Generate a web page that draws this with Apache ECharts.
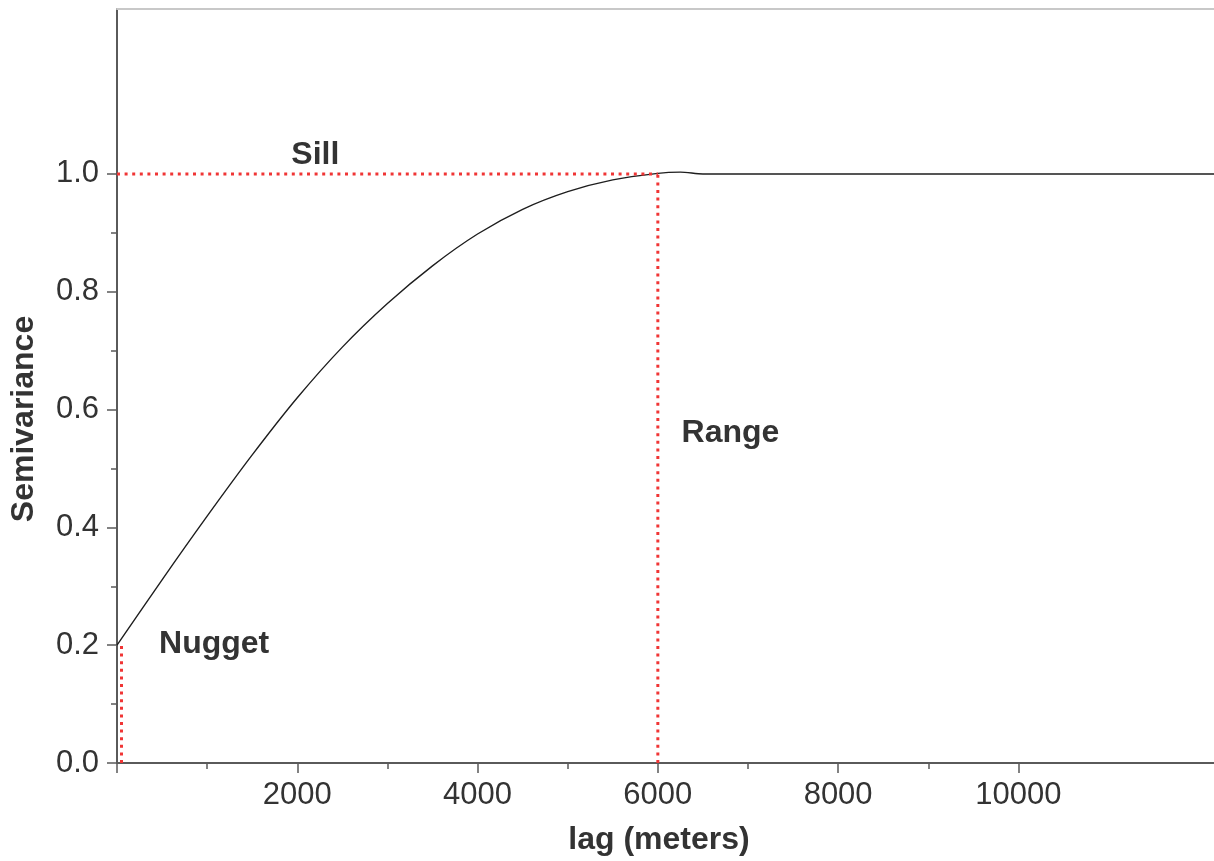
<!DOCTYPE html>
<html>
<head>
<meta charset="utf-8">
<script src="https://cdn.jsdelivr.net/npm/echarts@6/dist/echarts.min.js"></script>
<style>
html,body{margin:0;padding:0;background:#fff;}
#chart{width:1214px;height:861px;}
</style>
</head>
<body>
<div id="chart"></div>
<script>
// Semivariogram curve
var lagValues = [0, 500, 1000, 1500, 2000, 2500, 3000, 3500, 4000, 4500, 5000, 5500, 6000, 6250, 6500, 7000, 8000, 9000, 10000, 11000, 12200];
var semivarianceValues = [0.200, 0.311, 0.419, 0.523, 0.620, 0.706, 0.780, 0.844, 0.898, 0.940, 0.970, 0.990, 1.001, 1.003, 1.000, 1.000, 1.000, 1.000, 1.000, 1.000, 1.000];

// Reference lines
var sillValue = 1.0;
var rangeValue = 6000;
var nuggetValue = 0.2;
var nuggetLag = 50;

// Annotations
var annotationLabels = ['Sill', 'Nugget', 'Range'];
var annotationLag = [2200, 1078, 6806];
var annotationValue = [1.032, 0.202, 0.560];

// Ticks
var xLabelValues = [2000, 4000, 6000, 8000, 10000];
var xMajorTicks = [0, 2000, 4000, 6000, 8000, 10000];
var xMinorTicks = [1000, 3000, 5000, 7000, 9000];
var yLabelValues = [0, 0.2, 0.4, 0.6, 0.8, 1.0];
var yMinorTicks = [0.1, 0.3, 0.5, 0.7, 0.9];

var xName = 'lag (meters)';
var yName = 'Semivariance';

var FONT = 'Liberation Sans, Arial, Helvetica, sans-serif';
var AXIS_COLOR = '#5a5a5a';
var TEXT_COLOR = '#333333';
var RED = '#f03535';

var curveData = lagValues.map(function (x, i) { return [x, semivarianceValues[i]]; });
var annotationData = annotationLabels.map(function (t, i) {
  return { value: [annotationLag[i], annotationValue[i]], name: t };
});

var X_MIN = 0, X_MAX = 12170, Y_MIN = 0, Y_MAX = 1.28;

function baseX(extra) {
  return Object.assign({
    type: 'value', min: X_MIN, max: X_MAX, position: 'bottom', offset: 0,
    splitLine: { show: false },
    axisLine: { show: false },
    axisTick: { show: false },
    axisLabel: { show: false }
  }, extra);
}
function baseY(extra) {
  return Object.assign({
    type: 'value', min: Y_MIN, max: Y_MAX, position: 'left', offset: 0,
    splitLine: { show: false },
    axisLine: { show: false },
    axisTick: { show: false },
    axisLabel: { show: false }
  }, extra);
}

var option = {
  backgroundColor: '#ffffff',
  animation: false,
  grid: { left: 117, right: 0, top: 9, bottom: 96, containLabel: false },
  xAxis: [
    baseX({
      name: xName,
      nameLocation: 'middle',
      nameGap: 61,
      nameTextStyle: { fontFamily: FONT, fontSize: 32, fontWeight: 'bold', color: TEXT_COLOR, padding: [0, 13, 0, 0] },
      axisLine: { show: true, onZero: false, lineStyle: { color: AXIS_COLOR, width: 2 } },
      axisTick: { show: true, length: 10, customValues: xMajorTicks, lineStyle: { color: AXIS_COLOR, width: 1.5 } },
      axisLabel: {
        show: true, customValues: xLabelValues, margin: 17, fontFamily: FONT, fontSize: 31, color: TEXT_COLOR,
        formatter: function (v) { return String(Math.round(v)); }
      }
    }),
    baseX({
      axisTick: { show: true, length: 6, customValues: xMinorTicks, lineStyle: { color: AXIS_COLOR, width: 1.5 } }
    }),
    baseX({
      position: 'top',
      axisLine: { show: true, onZero: false, lineStyle: { color: '#c8c8c8', width: 2 } }
    })
  ],
  yAxis: [
    baseY({
      name: yName,
      nameLocation: 'middle',
      nameGap: 77,
      nameTextStyle: { fontFamily: FONT, fontSize: 32, fontWeight: 'bold', color: TEXT_COLOR, padding: [0, 66, 0, 0] },
      axisLine: { show: true, onZero: false, lineStyle: { color: AXIS_COLOR, width: 2 } },
      axisTick: { show: true, length: 10, customValues: yLabelValues, lineStyle: { color: AXIS_COLOR, width: 1.5 } },
      axisLabel: {
        show: true, customValues: yLabelValues, margin: 18, fontFamily: FONT, fontSize: 31, color: TEXT_COLOR,
        formatter: function (v) { return Number(v).toFixed(1); }
      }
    }),
    baseY({
      axisTick: { show: true, length: 6, customValues: yMinorTicks, lineStyle: { color: AXIS_COLOR, width: 1.5 } }
    })
  ],
  series: [
    {
      name: 'model',
      type: 'line',
      data: curveData,
      xAxisIndex: 0, yAxisIndex: 0,
      symbol: 'none',
      smooth: 0.3,
      lineStyle: { color: '#1e1e1e', width: 1.4 },
      z: 3
    },
    {
      name: 'sill',
      type: 'line',
      data: [[0, sillValue], [rangeValue, sillValue]],
      symbol: 'none',
      lineStyle: { color: RED, width: 3, type: [3, 4.6] },
      z: 4
    },
    {
      name: 'range',
      type: 'line',
      data: [[rangeValue, 0], [rangeValue, sillValue]],
      symbol: 'none',
      lineStyle: { color: RED, width: 3, type: [3, 4.6] },
      z: 4
    },
    {
      name: 'nugget',
      type: 'line',
      data: [[nuggetLag, 0], [nuggetLag, nuggetValue]],
      symbol: 'none',
      lineStyle: { color: RED, width: 3, type: [3, 4.6] },
      z: 4
    },
    {
      name: 'annotations',
      type: 'scatter',
      data: annotationData,
      symbolSize: 1,
      itemStyle: { color: 'rgba(0,0,0,0)', opacity: 1 },
      label: {
        show: true,
        position: 'inside',
        formatter: function (p) { return p.name; },
        fontFamily: FONT, fontSize: 32, fontWeight: 'bold', color: TEXT_COLOR
      },
      z: 5
    }
  ]
};

var chart = echarts.init(document.getElementById('chart'), null, { renderer: 'canvas' });
chart.setOption(option);
</script>
</body>
</html>
